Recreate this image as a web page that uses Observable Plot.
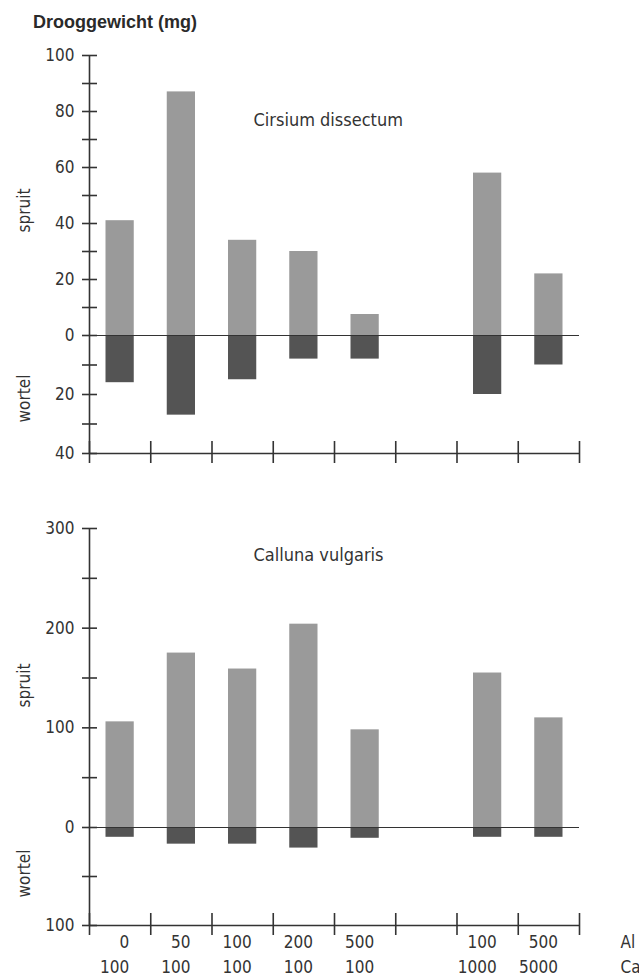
<!DOCTYPE html>
<html>
<head>
<meta charset="utf-8">
<script src="https://cdn.jsdelivr.net/npm/d3@7"></script>
<script src="https://cdn.jsdelivr.net/npm/@observablehq/plot@0.6"></script>
<style>
  body { margin: 0; background: #fff; width: 639px; overflow: hidden; }
  #title { box-sizing: border-box; height: 40px; padding: 13px 0 0 33px; font: bold 18px/1 "Liberation Sans", Arial, sans-serif; color: #2a2a2a; }
  svg { display: block; }
</style>
</head>
<body>
<div id="title">Drooggewicht (mg)</div>
<div id="chart"></div>
<script>
// Data
const alLabels = ["0", "50", "100", "200", "500", "", "100", "500"];
const caLabels = ["100", "100", "100", "100", "100", "", "1000", "5000"];
const slots = [0, 1, 2, 3, 4, 6, 7]; // slot 5 is empty
const cirsiumShoot = [41, 87, 34, 30, 7.5, 58, 22];
const cirsiumRoot = [16, 27, 15, 8, 8, 20, 10];
const callunaShoot = [106, 175, 159, 204, 98, 155, 110];
const callunaRoot = [10, 17, 17, 21, 11, 10, 10];

const FONT = '"DejaVu Sans Condensed", "DejaVu Sans", sans-serif';
const INK = "#333333";
const LIGHT = "#9a9a9a";
const DARK = "#545454";
const TICKFS = 17;

function rowsFor(shoot, root) {
  return slots.map((s, i) => ({slot: s, shoot: shoot[i], root: root[i]}));
}

function panel({rows, species, height, marginTop, marginBottom, yDomain, yRange, ticks, labelTicks, yMin, yMax, labelDy, spruitDy, wortelDy, xLabels}) {
  const marks = [
    Plot.rectY(rows, {x1: "slot", x2: d => d.slot + 1, y1: 0, y2: "shoot", fill: LIGHT, insetLeft: 16.5, insetRight: 16.5}),
    Plot.rectY(rows, {x1: "slot", x2: d => d.slot + 1, y1: 0, y2: d => -d.root, fill: DARK, insetLeft: 16.5, insetRight: 16.5}),
    Plot.ruleY([0], {x1: 0, x2: 8, stroke: INK, strokeWidth: 1.1}),
    Plot.ruleX([0], {y1: yMin, y2: yMax, stroke: INK, strokeWidth: 1.6}),
    Plot.ruleY([yMin], {x1: 0, x2: 8, stroke: INK, strokeWidth: 1.6}),
    Plot.axisY({ticks, tickSize: 15, dx: 8, tickFormat: () => "", label: null, stroke: INK, strokeWidth: 1.6}),
    Plot.axisY({ticks: labelTicks, tickSize: 0, tickPadding: 15, label: null, tickFormat: d => String(Math.abs(d)), fontSize: TICKFS, fill: INK}),
    Plot.axisX({ticks: d3.range(0, 9), tickSize: 22, dy: -12, tickFormat: () => "", label: null, stroke: INK, strokeWidth: 1.6}),
    Plot.text([species], {frameAnchor: "top-left", dx: 164, dy: labelDy, text: d => d, textAnchor: "start", lineAnchor: "middle", fontSize: 18, fill: INK}),
    Plot.text(["spruit"], {frameAnchor: "top-left", dx: -65, dy: spruitDy, text: d => d, rotate: -90, textAnchor: "middle", lineAnchor: "middle", fontSize: 17, fill: INK}),
    Plot.text(["wortel"], {frameAnchor: "top-left", dx: -65, dy: wortelDy, text: d => d, rotate: -90, textAnchor: "middle", lineAnchor: "middle", fontSize: 17, fill: INK})
  ];
  if (xLabels) {
    const idx = d3.range(8);
    marks.push(
      Plot.text(idx, {x: i => i + 0.5, frameAnchor: "bottom", text: i => alLabels[i], textAnchor: "end", lineAnchor: "middle", dx: 9, dy: 17, fontSize: TICKFS, fill: INK}),
      Plot.text(idx, {x: i => i + 0.5, frameAnchor: "bottom", text: i => caLabels[i], textAnchor: "end", lineAnchor: "middle", dx: 9, dy: 42, fontSize: TICKFS, fill: INK}),
      Plot.text(["Al"], {x: 8, frameAnchor: "bottom", text: d => d, textAnchor: "start", lineAnchor: "middle", dx: 41, dy: 17, fontSize: TICKFS, fill: INK}),
      Plot.text(["Ca"], {x: 8, frameAnchor: "bottom", text: d => d, textAnchor: "start", lineAnchor: "middle", dx: 41, dy: 42, fontSize: TICKFS, fill: INK})
    );
  }
  return Plot.plot({
    width: 639,
    height,
    marginLeft: 89,
    marginRight: 60,
    marginTop,
    marginBottom,
    style: {fontFamily: FONT, color: INK, background: "transparent", overflow: "visible"},
    x: {type: "linear", domain: [0, 8], label: null},
    y: {type: "linear", domain: yDomain, range: yRange, label: null},
    marks
  });
}

const topPanel = panel({
  rows: rowsFor(cirsiumShoot, cirsiumRoot),
  species: "Cirsium dissectum",
  height: 440, marginTop: 15, marginBottom: 27,
  yDomain: [-40, 0, 100], yRange: [413, 295, 15],
  ticks: d3.range(-40, 101, 10),
  labelTicks: d3.range(-40, 101, 20),
  yMin: -40, yMax: 100,
  labelDy: 65, spruitDy: 155, wortelDy: 343,
  xLabels: false
});

const bottomPanel = panel({
  rows: rowsFor(callunaShoot, callunaRoot),
  species: "Calluna vulgaris",
  height: 496, marginTop: 48, marginBottom: 51,
  yDomain: [-100, 0, 300], yRange: [445, 347, 48],
  ticks: d3.range(-100, 301, 50),
  labelTicks: d3.range(-100, 301, 100),
  yMin: -100, yMax: 300,
  labelDy: 27, spruitDy: 157, wortelDy: 345,
  xLabels: true
});

document.getElementById("chart").append(topPanel, bottomPanel);
</script>
</body>
</html>
